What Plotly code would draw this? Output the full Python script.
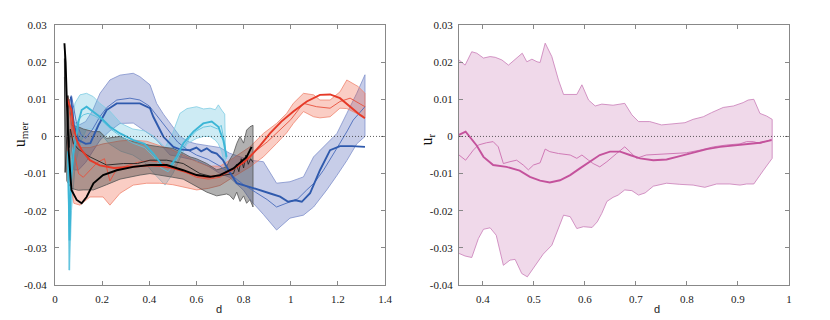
import plotly.graph_objects as go

# ---------- DATA ----------
# left panel: u_mer vs d, four series (band = spread, raw = thin line, mean = thick line)
blue_x_band = [0.067, 0.08, 0.1, 0.13, 0.16, 0.191, 0.233, 0.276, 0.332, 0.36, 0.403, 0.431, 0.46, 0.488, 0.53,
               0.57, 0.6, 0.65, 0.7, 0.74, 0.8, 0.827, 0.884, 0.94, 0.997, 1.054, 1.097, 1.153, 1.196, 1.238, 1.28, 1.315]
blue_hi = [0.011, 0.004, 0.003, 0.004, 0.007, 0.0116, 0.0152, 0.0165, 0.017, 0.0161, 0.0139, 0.0089, 0.006, 0.0035, 0.0,
           -0.0015, -0.002, -0.0025, -0.003, -0.0045, -0.0058, -0.0064, -0.0068, -0.0126, -0.0122, -0.0109, -0.0055,
           -0.002, 0.0008, 0.0062, 0.0116, 0.0166]
blue_lo = [0.0, -0.009, -0.009, -0.007, -0.004, -0.001, 0.0015, 0.0035, 0.0036, 0.0025, 0.0005, -0.001, -0.003, -0.005,
           -0.0055, -0.006, -0.0065, -0.008, -0.01, -0.011, -0.0145, -0.017, -0.021, -0.0252, -0.022, -0.0212, -0.019,
           -0.0144, -0.0105, -0.0065, -0.002, 0.0]
blue_x_raw = [0.07, 0.09, 0.11, 0.13, 0.16, 0.19, 0.22, 0.262, 0.318, 0.36, 0.4, 0.44, 0.48, 0.52, 0.56, 0.6, 0.65, 0.7,
              0.75, 0.8, 0.85, 0.9, 0.94, 0.97, 1.0, 1.03, 1.068, 1.1, 1.139, 1.175, 1.209, 1.24, 1.265, 1.29, 1.315]
blue_raw = [0.011, 0.004, 0.0005, -0.0005, 0.002, 0.0053, 0.0078, 0.0098, 0.0103, 0.0098, 0.0082, 0.005, 0.0015, -0.0015,
            -0.0035, -0.005, -0.0062, -0.008, -0.0105, -0.013, -0.015, -0.017, -0.019, -0.0182, -0.0175, -0.0168,
            -0.0144, -0.0125, -0.0091, -0.0055, -0.0018, 0.0015, 0.0044, 0.0062, 0.008]
blue_x_mean = [0.067, 0.08, 0.1, 0.13, 0.15, 0.184, 0.219, 0.262, 0.332, 0.36, 0.403, 0.417, 0.46, 0.502, 0.53, 0.573,
               0.6, 0.62, 0.644, 0.665, 0.686, 0.713, 0.74, 0.771, 0.82, 0.884, 0.92, 0.955, 0.989, 1.02, 1.047, 1.082,
               1.124, 1.167, 1.209, 1.26, 1.315]
blue_mean = [0.0107, 0.003, -0.001, -0.002, -0.0018, 0.003, 0.0071, 0.0089, 0.0089, 0.0089, 0.0076, 0.0053, -0.0001,
             -0.0028, -0.0035, -0.0037, -0.003, -0.004, -0.0032, -0.0042, -0.0046, -0.0064, -0.0095, -0.0126, -0.0135,
             -0.0149, -0.0155, -0.0162, -0.0176, -0.0172, -0.0176, -0.0153, -0.0091, -0.0037, -0.0026, -0.0026, -0.0028]

cyan_x_band = [0.055, 0.062, 0.07, 0.085, 0.106, 0.134, 0.163, 0.19, 0.23, 0.28, 0.33, 0.38, 0.42, 0.467, 0.5, 0.53,
               0.56, 0.601, 0.63, 0.658, 0.68, 0.693, 0.707, 0.72, 0.725]
cyan_hi = [-0.004, -0.02, 0.003, 0.009, 0.0112, 0.0116, 0.0107, 0.0089, 0.007, 0.0035, 0.002, 0.0015, 0.0, -0.003, 0.001,
           0.0062, 0.0075, 0.008, 0.0074, 0.0076, 0.0072, 0.0085, 0.0071, 0.006, -0.01]
cyan_lo = [-0.008, -0.036, -0.02, -0.008, -0.002, 0.002, 0.002, 0.001, -0.002, -0.004, -0.005, -0.007, -0.01, -0.0131,
           -0.01, -0.006, -0.002, -0.0005, 0.0, 0.0, -0.001, -0.002, -0.004, -0.008, -0.01]
cyan_x_raw = [0.055, 0.06, 0.064, 0.07, 0.085, 0.1, 0.12, 0.14, 0.17, 0.2, 0.24, 0.28, 0.33, 0.38, 0.42, 0.45, 0.48, 0.51,
              0.54, 0.57, 0.6, 0.63, 0.66, 0.69, 0.705, 0.72, 0.728]
cyan_raw = [-0.006, -0.036, -0.02, -0.006, 0.002, 0.0045, 0.0058, 0.0062, 0.0055, 0.0042, 0.0018, 0.0, -0.0018, -0.003,
            -0.0055, -0.0085, -0.0095, -0.007, -0.0035, -0.0005, 0.0015, 0.0025, 0.0028, 0.002, 0.003, -0.002, -0.006]
cyan_x_mean = [0.055, 0.062, 0.068, 0.08, 0.1, 0.113, 0.134, 0.163, 0.19, 0.233, 0.276, 0.332, 0.38, 0.417, 0.46, 0.488,
               0.516, 0.544, 0.587, 0.629, 0.665, 0.693, 0.714, 0.728]
cyan_mean = [-0.004, -0.028, -0.012, -0.004, 0.004, 0.0071, 0.008, 0.0067, 0.0053, 0.0026, 0.0008, -0.001, -0.002,
             -0.0046, -0.0082, -0.0082, -0.0055, -0.0019, 0.0013, 0.0035, 0.004, 0.0026, -0.001, -0.0055]

red_x_band = [0.05, 0.06, 0.08, 0.106, 0.148, 0.204, 0.233, 0.276, 0.332, 0.389, 0.445, 0.5, 0.544, 0.601, 0.65, 0.7,
              0.757, 0.8, 0.827, 0.884, 0.94, 0.983, 1.011, 1.054, 1.097, 1.124, 1.167, 1.209, 1.238, 1.287, 1.315]
red_hi = [0.011, 0.01, 0.0, -0.003, -0.003, -0.002, -0.0017, -0.0012, -0.001, -0.0013, -0.0025, -0.0037, -0.005, -0.0068,
          -0.008, -0.008, -0.0058, -0.004, -0.0028, 0.0008, 0.0035, 0.0062, 0.0089, 0.0116, 0.0112, 0.0098, 0.0098,
          0.012, 0.0152, 0.0134, 0.0116]
red_lo = [0.0, -0.01, -0.018, -0.0185, -0.0163, -0.0163, -0.0185, -0.0153, -0.0131, -0.0126, -0.0126, -0.013, -0.0136,
          -0.0144, -0.014, -0.0132, -0.0109, -0.0092, -0.0082, -0.0055, -0.0019, 0.001, 0.0035, 0.0067, 0.0053, 0.005,
          0.0053, 0.0076, 0.0075, 0.006, 0.0053]
red_x_raw = [0.055, 0.065, 0.08, 0.1, 0.12, 0.15, 0.18, 0.21, 0.233, 0.26, 0.3, 0.35, 0.4, 0.45, 0.5, 0.55, 0.6, 0.65,
             0.7, 0.75, 0.8, 0.85, 0.9, 0.95, 1.0, 1.054, 1.11, 1.167, 1.209, 1.252, 1.315]
red_raw = [0.009, 0.005, -0.004, -0.01, -0.011, -0.009, -0.007, -0.006, -0.012, -0.009, -0.008, -0.007, -0.0065, -0.007,
           -0.0085, -0.0095, -0.011, -0.0115, -0.011, -0.009, -0.0065, -0.004, -0.0015, 0.0015, 0.0045, 0.0089, 0.008,
           0.0076, 0.0094, 0.0103, 0.008]
red_x_mean = [0.05, 0.07, 0.078, 0.092, 0.113, 0.148, 0.19, 0.25, 0.3, 0.35, 0.4, 0.45, 0.5, 0.55, 0.6, 0.65, 0.7, 0.75,
              0.8, 0.827, 0.87, 0.912, 0.96, 1.011, 1.068, 1.124, 1.167, 1.209, 1.252, 1.294, 1.315]
red_mean = [0.0103, 0.0071, 0.0026, -0.001, -0.0037, -0.0064, -0.0078, -0.0085, -0.0083, -0.008, -0.0078, -0.008,
            -0.0085, -0.0095, -0.0105, -0.011, -0.0105, -0.009, -0.007, -0.0055, -0.0025, 0.0008, 0.004, 0.0067, 0.0094,
            0.0112, 0.0113, 0.0103, 0.008, 0.0058, 0.0049]

black_x_band = [0.04, 0.05, 0.06, 0.07, 0.099, 0.12, 0.163, 0.19, 0.219, 0.276, 0.318, 0.361, 0.403, 0.445, 0.5, 0.544,
                0.573, 0.6, 0.644, 0.686, 0.728, 0.74, 0.757, 0.771, 0.785, 0.8, 0.813, 0.827, 0.84]
black_hi = [0.024, 0.008, 0.01, 0.003, 0.0026, 0.002, 0.0013, 0.0013, -0.0005, 0.0, -0.0012, -0.0019, -0.0024, -0.0028,
            -0.0032, -0.0045, -0.0055, -0.006, -0.0073, -0.009, -0.0082, -0.0064, -0.0046, -0.0019, 0.0, -0.0018,
            0.0017, 0.0026, 0.003]
black_lo = [0.016, -0.012, -0.013, -0.014, -0.0145, -0.0144, -0.0144, -0.0138, -0.013, -0.0115, -0.0109, -0.0104, -0.01,
            -0.0105, -0.011, -0.0115, -0.0125, -0.0135, -0.015, -0.016, -0.0155, -0.0158, -0.017, -0.015, -0.0175,
            -0.016, -0.018, -0.017, -0.019]
black_x_raw = [0.04, 0.043, 0.05, 0.055, 0.06, 0.065, 0.078, 0.1, 0.148, 0.219, 0.29, 0.35, 0.403, 0.474, 0.544, 0.615,
               0.672, 0.72, 0.757, 0.77, 0.78, 0.79, 0.8, 0.81, 0.82, 0.83, 0.84]
black_raw = [0.021, -0.0097, 0.0, 0.011, -0.003, 0.002, -0.0019, -0.0035, -0.0055, -0.0077, -0.0073, -0.0073, -0.0064,
             -0.0064, -0.0073, -0.01, -0.0109, -0.0105, -0.01, -0.0075, -0.0095, -0.006, -0.0085, -0.005, -0.0075,
             -0.006, -0.007]
black_x_mean = [0.04, 0.045, 0.05, 0.058, 0.0698, 0.092, 0.113, 0.134, 0.163, 0.204, 0.262, 0.332, 0.403, 0.474, 0.544,
                0.601, 0.658, 0.7, 0.757, 0.813, 0.834]
black_mean = [0.0251, 0.02, 0.01, -0.004, -0.0144, -0.0171, -0.018, -0.0163, -0.0126, -0.0104, -0.0091, -0.0082,
              -0.0077, -0.0077, -0.0091, -0.0104, -0.0109, -0.0104, -0.0086, -0.0055, -0.0028]

# right panel: u_r vs d
r_x_hi = [0.353, 0.365, 0.378, 0.388, 0.401, 0.414, 0.424, 0.437, 0.45, 0.463, 0.477, 0.486, 0.496, 0.506, 0.512, 0.522,
          0.535, 0.548, 0.558, 0.584, 0.594, 0.607, 0.62, 0.633, 0.655, 0.678, 0.692, 0.705, 0.727, 0.75, 0.773, 0.796,
          0.812, 0.832, 0.848, 0.871, 0.891, 0.91, 0.92, 0.931, 0.943, 0.956, 0.967]
r_hi = [0.0206, 0.0192, 0.0228, 0.0224, 0.0211, 0.0215, 0.0213, 0.0206, 0.0192, 0.0208, 0.0224, 0.0201, 0.0208, 0.0201,
        0.0199, 0.0251, 0.0215, 0.0152, 0.0113, 0.0113, 0.0139, 0.0098, 0.0082, 0.0087, 0.0084, 0.0089, 0.0058, 0.004,
        0.004, 0.0031, 0.0033, 0.0037, 0.0046, 0.0053, 0.0064, 0.0078, 0.0082, 0.0091, 0.0098, 0.01, 0.0062, 0.0055,
        0.0046]
r_x_lo = [0.353, 0.365, 0.378, 0.391, 0.401, 0.414, 0.426, 0.44, 0.453, 0.463, 0.476, 0.487, 0.502, 0.518, 0.535, 0.548,
          0.558, 0.571, 0.584, 0.597, 0.614, 0.624, 0.633, 0.643, 0.655, 0.665, 0.678, 0.692, 0.705, 0.718, 0.734, 0.76,
          0.786, 0.812, 0.835, 0.858, 0.884, 0.904, 0.917, 0.931, 0.95, 0.967]
r_lo = [-0.0315, -0.0322, -0.0326, -0.0275, -0.025, -0.0246, -0.0266, -0.0347, -0.0333, -0.0331, -0.0369, -0.0378,
        -0.0347, -0.0317, -0.0293, -0.0248, -0.0212, -0.0216, -0.0248, -0.0243, -0.0245, -0.023, -0.0207, -0.0175,
        -0.0164, -0.0158, -0.0144, -0.0146, -0.0158, -0.0152, -0.0134, -0.0126, -0.0129, -0.0131, -0.0137, -0.0128,
        -0.0128, -0.0131, -0.0128, -0.0128, -0.0091, -0.0059]
r_x_raw = [0.353, 0.366, 0.381, 0.391, 0.407, 0.42, 0.43, 0.44, 0.453, 0.466, 0.479, 0.489, 0.499, 0.512, 0.522, 0.531,
           0.548, 0.571, 0.584, 0.594, 0.607, 0.616, 0.629, 0.643, 0.662, 0.678, 0.688, 0.701, 0.72, 0.76, 0.799, 0.825,
           0.852, 0.878, 0.904, 0.917, 0.93, 0.943, 0.966]
r_raw = [-0.005, -0.0064, -0.0037, -0.0023, -0.0017, -0.0014, -0.0028, -0.0073, -0.0068, -0.0064, -0.0077, -0.009,
         -0.0077, -0.0071, -0.0034, -0.0041, -0.0046, -0.005, -0.0059, -0.005, -0.0064, -0.0073, -0.0082, -0.0068,
         -0.0046, -0.0028, -0.0041, -0.0059, -0.005, -0.0047, -0.0044, -0.0037, -0.0028, -0.0023, -0.002, -0.0014,
         -0.0014, -0.0019, -0.0008]
r_x_mean = [0.353, 0.366, 0.388, 0.401, 0.42, 0.446, 0.472, 0.492, 0.512, 0.531, 0.551, 0.571, 0.59, 0.61, 0.629, 0.649,
            0.669, 0.688, 0.708, 0.734, 0.76, 0.786, 0.812, 0.839, 0.865, 0.891, 0.917, 0.943, 0.966]
r_mean = [0.0004, 0.0013, -0.0025, -0.0055, -0.0077, -0.0082, -0.0092, -0.0109, -0.0119, -0.0124, -0.0118, -0.0104,
          -0.0086, -0.0068, -0.005, -0.0041, -0.0041, -0.005, -0.0059, -0.0064, -0.0062, -0.0053, -0.0043, -0.0034,
          -0.0028, -0.0025, -0.002, -0.0017, -0.001]

left_xticks = [0, 0.2, 0.4, 0.6, 0.8, 1, 1.2, 1.4]
left_xlabels = ["0", "0.2", "0.4", "0.6", "0.8", "1", "1.2", "1.4"]
right_xticks = [0.4, 0.5, 0.6, 0.7, 0.8, 0.9, 1]
right_xlabels = ["0.4", "0.5", "0.6", "0.7", "0.8", "0.9", "1"]
yticks = [-0.04, -0.03, -0.02, -0.01, 0, 0.01, 0.02, 0.03]
ylabels = ["-0.04", "-0.03", "-0.02", "-0.01", "0", "0.01", "0.02", "0.03"]

# ---------- STYLE ----------
SERIF = "Liberation Serif, Times New Roman, Times, serif"
SANS = "Liberation Sans, Arial, sans-serif"
# (fill, edge, raw line, thick line)
STYLES = {
    "blue": ("rgba(70,90,180,0.30)", "#8090cc", "#4a6cbb", "#2f5aad"),
    "cyan": ("rgba(90,190,220,0.30)", "#7fcde3", "#5cc2dc", "#3cb6d6"),
    "red": ("rgba(240,90,60,0.30)", "#f08570", "#e8503c", "#e63a28"),
    "black": ("rgba(60,60,60,0.40)", "#555555", "#222222", "#000000"),
    "mag": ("rgba(200,120,180,0.28)", "#c97cb8", "#cc6fb0", "#c4529c"),
}

fig = go.Figure()


def add_band(xu, up, xl, lo, key, xa="x", ya="y"):
    fill, edge, _, _ = STYLES[key]
    fig.add_trace(go.Scatter(x=xu + xl[::-1], y=up + lo[::-1], fill="toself", fillcolor=fill,
                             line=dict(color=edge, width=0.8), mode="lines", hoverinfo="skip",
                             xaxis=xa, yaxis=ya, showlegend=False))


def add_line(x, y, key, thick, xa="x", ya="y"):
    col = STYLES[key][3] if thick else STYLES[key][2]
    fig.add_trace(go.Scatter(x=x, y=y, mode="lines", line=dict(color=col, width=1.9 if thick else 0.9),
                             xaxis=xa, yaxis=ya, showlegend=False))


# bands first, then thin lines, then thick lines
add_band(blue_x_band, blue_hi, blue_x_band, blue_lo, "blue")
add_band(cyan_x_band, cyan_hi, cyan_x_band, cyan_lo, "cyan")
add_band(red_x_band, red_hi, red_x_band, red_lo, "red")
add_band(black_x_band, black_hi, black_x_band, black_lo, "black")
add_line(blue_x_raw, blue_raw, "blue", False)
add_line(cyan_x_raw, cyan_raw, "cyan", False)
add_line(red_x_raw, red_raw, "red", False)
add_line(black_x_raw, black_raw, "black", False)
add_line(blue_x_mean, blue_mean, "blue", True)
add_line(cyan_x_mean, cyan_mean, "cyan", True)
add_line(red_x_mean, red_mean, "red", True)
add_line(black_x_mean, black_mean, "black", True)

add_band(r_x_hi, r_hi, r_x_lo, r_lo, "mag", "x2", "y2")
add_line(r_x_raw, r_raw, "mag", False, "x2", "y2")
add_line(r_x_mean, r_mean, "mag", True, "x2", "y2")

tickfont = dict(family=SERIF, size=11, color="#222")
axis_common = dict(ticks="inside", ticklen=4, tickcolor="#888", showline=True, linecolor="#888", linewidth=1,
                   mirror="ticks", showgrid=False, zeroline=False, tickfont=tickfont, automargin=False)
zero_line = dict(color="#333", width=0.8, dash="1px,2px")


def label(text, x, y, angle=0, font=None):
    return dict(text=text, xref="paper", yref="paper", x=x, y=y, textangle=angle, xanchor="center",
                yanchor="middle", showarrow=False, font=font)


# page body has an 8px margin, so the figure is 8px smaller and margins shifted
fig.update_layout(
    width=822, height=312,
    margin=dict(l=47, r=41, t=17, b=35),
    plot_bgcolor="white", paper_bgcolor="white",
    xaxis=dict(domain=[0, 0.4496], range=[0, 1.4], tickvals=left_xticks, ticktext=left_xlabels,
               ticklabelstandoff=4, anchor="y", **axis_common),
    yaxis=dict(domain=[0, 1], range=[-0.04, 0.03], tickvals=yticks, ticktext=ylabels,
               ticklabelstandoff=5, anchor="x", **axis_common),
    xaxis2=dict(domain=[0.5504, 1], range=[0.353, 1], tickvals=right_xticks, ticktext=right_xlabels,
                ticklabelstandoff=4, anchor="y2", **axis_common),
    yaxis2=dict(domain=[0, 1], range=[-0.04, 0.03], tickvals=yticks, ticktext=ylabels,
                ticklabelstandoff=3, anchor="x2", **axis_common),
    shapes=[
        dict(type="line", xref="x domain", x0=0, x1=1, yref="y", y0=0, y1=0, line=zero_line, layer="above"),
        dict(type="line", xref="x2 domain", x0=0, x1=1, yref="y2", y0=0, y1=0, line=zero_line, layer="above"),
    ],
    annotations=[
        label("u<sub>mer</sub>", -0.0477, 0.58, -90, dict(family=SERIF, size=16, color="#111")),
        label("u<sub>r</sub>", 0.507, 0.56, -90, dict(family=SERIF, size=16, color="#111")),
        label("d", 0.2234, -0.092, 0, dict(family=SANS, size=11, color="#222")),
        label("d", 0.820, -0.092, 0, dict(family=SANS, size=11, color="#222")),
    ],
)

fig.write_html("out.html")
